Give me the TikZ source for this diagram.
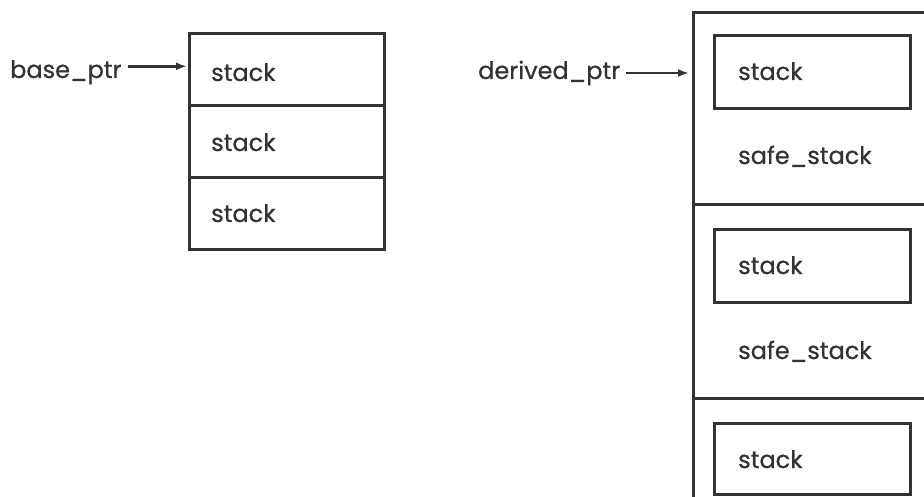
\documentclass[tikz,border=0pt]{standalone}
\usepackage{fontspec}
\setmainfont{Poppins}[FakeBold=0.7]
\usetikzlibrary{arrows.meta}
\definecolor{ink}{HTML}{333333}
\begin{document}
\begin{tikzpicture}[x=1pt,y=-1pt,
  every node/.style={font=\fontsize{24}{28}\selectfont, text=ink},
  cell/.style={draw=ink, line width=2.6pt, minimum width=195pt, minimum height=72pt, anchor=north west, inner sep=0pt},
  outercell/.style={draw=ink, line width=2.6pt, minimum width=260pt, anchor=north west, inner sep=0pt},
  innerbox/.style={draw=ink, line width=3pt, minimum width=196pt, minimum height=72pt, anchor=north west, inner sep=0pt},
  lbl/.style={anchor=base west, inner sep=0pt},
  ptrarrow/.style={draw=ink, line width=2.6pt, -{Latex[length=11pt,width=8pt]}}
]
\useasboundingbox (0,0) rectangle (924,497);
% left structure
\node[cell] (lb1) at (188,32) {};
\node[cell] (lb2) at (188,104) {};
\node[cell] (lb3) at (188,176) {};
\node[lbl] (lt1) at (211,81) {stack};
\node[lbl] (lt2) at (211,151) {stack};
\node[lbl] (lt3) at (211,222) {stack};
\node[lbl] (bp) at (10,78) {base\_ptr};
\coordinate (a1) at ([yshift=3]lb1.west);
\draw[ptrarrow] ([xshift=6pt]bp.east |- a1) -- ([xshift=-1pt]a1);
% right structure
\node[outercell, minimum height=192pt] (ro1) at (692,11) {};
\node[outercell, minimum height=194pt] (ro2) at (692,203) {};
\node[outercell, minimum height=194pt] (ro3) at (692,397) {};
\node[innerbox, minimum height=73pt] (ri1) at (713,34) {};
\node[innerbox, minimum height=73pt] (ri2) at (713,228) {};
\node[innerbox, minimum height=71pt] (ri3) at (713,422) {};
\node[lbl] (rt1) at (738,80) {stack};
\node[lbl] (rs1) at (738,164) {safe\_stack};
\node[lbl] (rt2) at (738,274) {stack};
\node[lbl] (rs2) at (738,359) {safe\_stack};
\node[lbl] (rt3) at (738,468) {stack};
\node[lbl] (dp) at (478,79) {derived\_ptr};
\coordinate (a2) at (ro1.west |- 0,73);
\draw[ptrarrow] ([xshift=6pt]dp.east |- a2) -- ([xshift=-3pt]a2);
\end{tikzpicture}
\end{document}
